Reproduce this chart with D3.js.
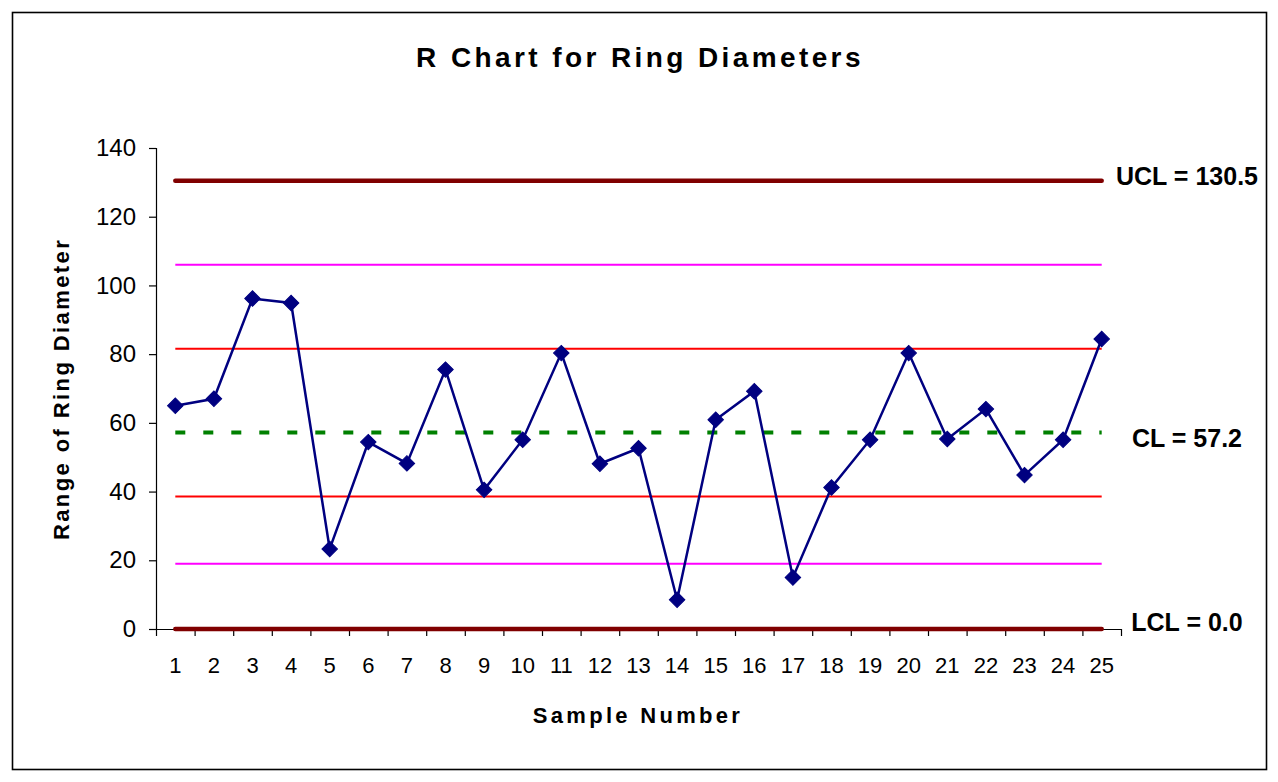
<!DOCTYPE html>
<html>
<head>
<meta charset="utf-8">
<script src="https://cdn.jsdelivr.net/npm/d3@7"></script>
<style>
  html, body { margin: 0; padding: 0; background: #fff; }
  svg { display: block; font-family: "Liberation Sans", Arial, sans-serif; }
</style>
</head>
<body>
<svg id="chart" width="1278" height="782"></svg>
<script>
// ---- data ----
const categories = ["1","2","3","4","5","6","7","8","9","10","11","12","13","14","15","16","17","18","19","20","21","22","23","24","25"];
const ranges = [65.0, 67.0, 96.2, 94.9, 23.3, 54.4, 48.2, 75.5, 40.5, 55.1, 80.3, 48.1, 52.6, 8.5, 60.9, 69.2, 15.0, 41.2, 55.1, 80.3, 55.3, 64.0, 44.8, 55.1, 84.4];
const controlNames = ["UCL", "CL", "LCL"];
const controlValues = [130.5, 57.2, 0.0];
const controlLabels = ["UCL = 130.5", "CL = 57.2", "LCL = 0.0"];
const sigma2Lines = [106.0, 19.0];   // magenta zone lines
const sigma1Lines = [81.6, 38.6];    // red zone lines
const yTicks = [0, 20, 40, 60, 80, 100, 120, 140];
const titleText = "R Chart for Ring Diameters";
const xTitle = "Sample Number";
const yTitle = "Range of Ring Diameter";

(function () {
// ---- layout ----
const svg = d3.select("#chart");
const pLeft = 156, pRight = 1121, pTop = 148, pBottom = 629;

const x = d3.scaleBand().domain(categories).range([pLeft, pRight]).padding(0);
const xc = d => x(d) + x.bandwidth() / 2;
const xb = d3.scaleLinear().domain([0, categories.length]).range([pLeft, pRight]);
const y = d3.scaleLinear().domain([0, 140]).range([pBottom, pTop]);

// outer frame
svg.append("rect").attr("x", 12.5).attr("y", 12.5).attr("width", 1254).attr("height", 757)
  .attr("fill", "none").attr("stroke", "#000").attr("stroke-width", 1.6);

// title
svg.append("text").attr("x", 640).attr("y", 67).attr("text-anchor", "middle")
  .attr("font-size", 28).attr("font-weight", "bold").attr("letter-spacing", 3.4)
  .text(titleText);

// y axis
const yAxis = svg.append("g").attr("transform", `translate(${pLeft},0)`)
  .call(d3.axisLeft(y).tickValues(yTicks).tickSize(7).tickPadding(13).tickFormat(d3.format("d")));
yAxis.select(".domain").attr("stroke", "#000").attr("stroke-width", 1.2);
yAxis.selectAll(".tick line").attr("stroke", "#000").attr("stroke-width", 1.2);
yAxis.selectAll(".tick text").attr("font-size", 24).attr("fill", "#000")
  .attr("font-family", "Liberation Sans, Arial, sans-serif");

// x axis: tick marks at band boundaries
const xTickAxis = svg.append("g").attr("transform", `translate(0,${pBottom})`)
  .call(d3.axisBottom(xb).ticks(categories.length).tickSize(7).tickFormat(""));
xTickAxis.select(".domain").attr("stroke", "#000").attr("stroke-width", 1.2)
  .attr("d", `M${pLeft},0.5H${pRight}`);
xTickAxis.selectAll(".tick line").attr("stroke", "#000").attr("stroke-width", 1.2);

// x axis labels
const xLabelAxis = svg.append("g").attr("transform", `translate(0,${pBottom})`)
  .call(d3.axisBottom(x).tickSize(0).tickPadding(28));
xLabelAxis.select(".domain").remove();
xLabelAxis.selectAll(".tick text").attr("font-size", 22).attr("fill", "#000")
  .attr("font-family", "Liberation Sans, Arial, sans-serif");

// axis titles
svg.append("text").attr("x", 638).attr("y", 723).attr("text-anchor", "middle")
  .attr("font-size", 22).attr("font-weight", "bold").attr("letter-spacing", 3.3)
  .text(xTitle);
svg.append("text").attr("transform", "translate(69,389) rotate(-90)").attr("text-anchor", "middle")
  .attr("font-size", 22).attr("font-weight", "bold").attr("letter-spacing", 2.4)
  .text(yTitle);

const x0 = xc(categories[0]), x1 = xc(categories[categories.length - 1]);

// zone lines
svg.selectAll("line.s2").data(sigma2Lines).enter().append("line").attr("class", "s2")
  .attr("x1", x0).attr("x2", x1).attr("y1", d => y(d)).attr("y2", d => y(d))
  .attr("stroke", "#ff00ff").attr("stroke-width", 2);
svg.selectAll("line.s1").data(sigma1Lines).enter().append("line").attr("class", "s1")
  .attr("x1", x0).attr("x2", x1).attr("y1", d => y(d)).attr("y2", d => y(d))
  .attr("stroke", "#ff0000").attr("stroke-width", 2);

// center line
svg.append("line").attr("x1", x0).attr("x2", x1)
  .attr("y1", y(controlValues[1])).attr("y2", y(controlValues[1]))
  .attr("stroke", "#008000").attr("stroke-width", 4).attr("stroke-dasharray", "10,18");

// UCL / LCL
svg.selectAll("line.lim").data([controlValues[0], controlValues[2]]).enter().append("line").attr("class", "lim")
  .attr("x1", x0).attr("x2", x1).attr("y1", d => y(d)).attr("y2", d => y(d))
  .attr("stroke", "#800000").attr("stroke-width", 4.5).attr("stroke-linecap", "round");

// data line
const line = d3.line().x((d, i) => xc(categories[i])).y(d => y(d));
svg.append("path").datum(ranges).attr("d", line)
  .attr("fill", "none").attr("stroke", "#000080").attr("stroke-width", 2.5);

// markers (diamonds)
svg.selectAll("path.pt").data(ranges).enter().append("path").attr("class", "pt")
  .attr("transform", (d, i) => `translate(${xc(categories[i])},${y(d)}) rotate(45)`)
  .attr("d", d3.symbol().type(d3.symbolSquare).size(120))
  .attr("fill", "#000080").attr("stroke", "#000080").attr("stroke-width", 1);

// control labels
const labelBaselineOffset = [4.5, 14.5, 1.5];
svg.selectAll("text.cl").data(controlLabels).enter().append("text").attr("class", "cl")
  .attr("x", 1187).attr("y", (d, i) => y(controlValues[i]) + labelBaselineOffset[i])
  .attr("text-anchor", "middle").attr("font-size", 25).attr("font-weight", "bold")
  .text(d => d);
})();
</script>
</body>
</html>
